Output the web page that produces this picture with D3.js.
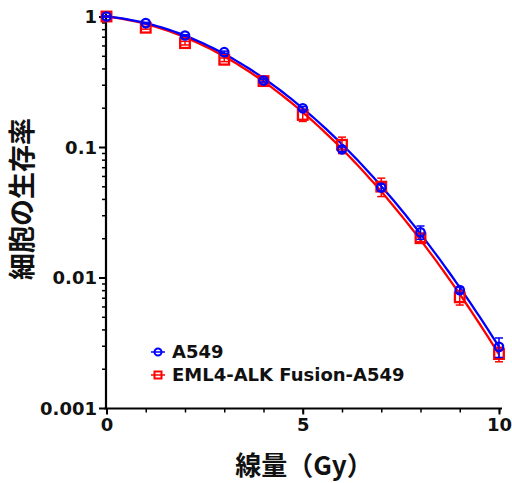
<!DOCTYPE html>
<html>
<head>
<meta charset="utf-8">
<script src="https://cdn.jsdelivr.net/npm/d3@7"></script>
<style>
  html, body { margin: 0; padding: 0; background: #fff; }
  svg { display: block; }
  .num { font-family: "DejaVu Sans", Verdana, sans-serif; font-weight: bold; }
  .jp { font-family: "Noto Sans CJK JP", sans-serif; font-weight: bold; }
</style>
</head>
<body>
<svg id="chart" width="512" height="483"></svg>
<script>
// Radiation dose (Gy)
const doses = [0, 1, 2, 3, 4, 5, 6, 7, 8, 9, 10];

// Surviving fraction, mean and error, per cell line
const a549Mean = [1.0, 0.89, 0.715, 0.533, 0.323, 0.198, 0.096, 0.0489, 0.0222, 0.0080, 0.00294];
const a549Err  = [0.01, 0.01, 0.01, 0.01, 0.008, 0.006, 0.004, 0.003, 0.0026, 0.0004, 0.0005];
const emlMean  = [1.0, 0.82, 0.625, 0.466, 0.320, 0.176, 0.104, 0.0497, 0.0200, 0.00705, 0.00259];
const emlErr   = [0.01, 0.02, 0.02, 0.015, 0.01, 0.019, 0.015, 0.008, 0.0012, 0.0009, 0.00033];

// Linear-quadratic fit parameters [alpha, beta]: S = exp(-alpha*D - beta*D^2)
const a549Fit = [0.065, 0.0518];
const emlFit  = [0.080, 0.0516];

const seriesNames = ["A549", "EML4-ALK Fusion-A549"];
const seriesColors = ["#0000ff", "#ff0000"];

const yTickValues = [1, 0.1, 0.01, 0.001];
const yTickLabels = ["1", "0.1", "0.01", "0.001"];
const xTickLabels = ["0", "5", "10"];

const svg = d3.select("#chart");

const x = d3.scaleLinear().domain([0, 10]).range([106.5, 499]);
const y = d3.scaleLog().domain([0.001, 1]).range([408, 16.5]);

// Axes
const yMinor = [];
for (let p = -3; p < 0; p++) for (let k = 2; k <= 9; k++) yMinor.push(k * Math.pow(10, p));

const axisG = svg.append("g");
axisG.append("g")
  .attr("transform", `translate(${x(0) - 0.5},0)`)
  .call(d3.axisLeft(y).tickValues(yMinor).tickSize(4).tickFormat(""))
  .call(g => g.select(".domain").remove())
  .call(g => g.selectAll("line").attr("stroke", "#000").attr("stroke-width", 1.5));
axisG.append("g")
  .attr("transform", `translate(${x(0) - 0.5},0)`)
  .call(d3.axisLeft(y).tickValues(yTickValues).tickSize(7).tickSizeOuter(0)
        .tickFormat((d, i) => yTickLabels[i]).tickPadding(2))
  .call(g => g.select(".domain").attr("stroke", "#000").attr("stroke-width", 2.2)
        .attr("d", `M0,${y(0.001) + 1}V${y(1) - 3}`))
  .call(g => g.selectAll("line").attr("stroke", "#000").attr("stroke-width", 2))
  .call(g => g.selectAll("text").attr("class", "num").attr("font-size", 18).attr("fill", "#111").attr("dy", "0.36em"));

axisG.append("g")
  .attr("transform", `translate(0,${y(0.001) + 0.5})`)
  .call(d3.axisBottom(x).tickValues(doses).tickSize(4).tickFormat(""))
  .call(g => g.select(".domain").remove())
  .call(g => g.selectAll("line").attr("stroke", "#000").attr("stroke-width", 1.5));
axisG.append("g")
  .attr("transform", `translate(0,${y(0.001) + 0.5})`)
  .call(d3.axisBottom(x).tickValues([0, 5, 10]).tickSize(6).tickSizeOuter(0)
        .tickFormat((d, i) => xTickLabels[i]).tickPadding(4))
  .call(g => g.select(".domain").attr("stroke", "#000").attr("stroke-width", 2.2)
        .attr("d", `M${x(0) - 2},0H${x(10) + 3}`))
  .call(g => g.selectAll("line").attr("stroke", "#000").attr("stroke-width", 2))
  .call(g => g.selectAll("text").attr("class", "num").attr("font-size", 18).attr("fill", "#111"));

// Axis titles
svg.append("text").attr("class", "jp")
  .attr("x", 304).attr("y", 475)
  .attr("text-anchor", "middle").attr("font-size", 26).attr("fill", "#111")
  .text("線量（Gy）");
svg.append("text").attr("class", "jp")
  .attr("transform", "translate(32,199) rotate(-90)")
  .attr("text-anchor", "middle").attr("font-size", 27).attr("fill", "#111")
  .text("細胞の生存率");

// Fitted curves
const fineDose = d3.range(0, 10.0001, 0.1);
const lineGen = d3.line().x(d => x(d[0])).y(d => y(d[1])).curve(d3.curveLinear);
const lq = (p, D) => Math.exp(-p[0] * D - p[1] * D * D);

const series = [
  { mean: a549Mean, err: a549Err, fit: a549Fit, color: seriesColors[0], shape: "circle" },
  { mean: emlMean, err: emlErr, fit: emlFit, color: seriesColors[1], shape: "square" }
];

// red drawn first, blue on top
[series[1], series[0]].forEach(s => {
  svg.append("path")
    .attr("d", lineGen(fineDose.map(D => [D, lq(s.fit, D)])))
    .attr("fill", "none").attr("stroke", s.color).attr("stroke-width", 2.3);
});

[series[1], series[0]].forEach(s => {
  const g = svg.append("g");
  const pts = doses.map((d, i) => ({ d, m: s.mean[i], e: s.err[i] }));
  // error bars
  pts.forEach(p => {
    const lo = Math.max(p.m - p.e, 0.0011), hi = p.m + p.e;
    g.append("line").attr("x1", x(p.d)).attr("x2", x(p.d))
      .attr("y1", y(lo)).attr("y2", y(hi)).attr("stroke", s.color).attr("stroke-width", 1.5);
    [lo, hi].forEach(v => g.append("line")
      .attr("x1", x(p.d) - 4).attr("x2", x(p.d) + 4)
      .attr("y1", y(v)).attr("y2", y(v)).attr("stroke", s.color).attr("stroke-width", 1.5));
  });
  // markers
  pts.forEach(p => {
    if (s.shape === "circle") {
      g.append("circle").attr("cx", x(p.d)).attr("cy", y(p.m)).attr("r", 4.2)
        .attr("fill", "none").attr("stroke", s.color).attr("stroke-width", 2.3);
    } else {
      g.append("rect").attr("x", x(p.d) - 4.8).attr("y", y(p.m) - 4.8)
        .attr("width", 9.6).attr("height", 9.6)
        .attr("fill", "none").attr("stroke", s.color).attr("stroke-width", 2.3);
    }
  });
});

// Legend
const legend = svg.append("g");
series.forEach((s, i) => {
  const ly = 352 + i * 23;
  legend.append("line").attr("x1", 151).attr("x2", 165).attr("y1", ly).attr("y2", ly)
    .attr("stroke", s.color).attr("stroke-width", 1.5);
  if (s.shape === "circle") {
    legend.append("circle").attr("cx", 158).attr("cy", ly).attr("r", 3.5)
      .attr("fill", "none").attr("stroke", s.color).attr("stroke-width", 2);
  } else {
    legend.append("rect").attr("x", 154.5).attr("y", ly - 3.5).attr("width", 7).attr("height", 7)
      .attr("fill", "none").attr("stroke", s.color).attr("stroke-width", 2);
  }
  legend.append("text").attr("class", "num")
    .attr("x", 172).attr("y", ly).attr("dy", "0.36em")
    .attr("font-size", 18).attr("fill", "#111")
    .text(seriesNames[i]);
});
</script>
</body>
</html>
